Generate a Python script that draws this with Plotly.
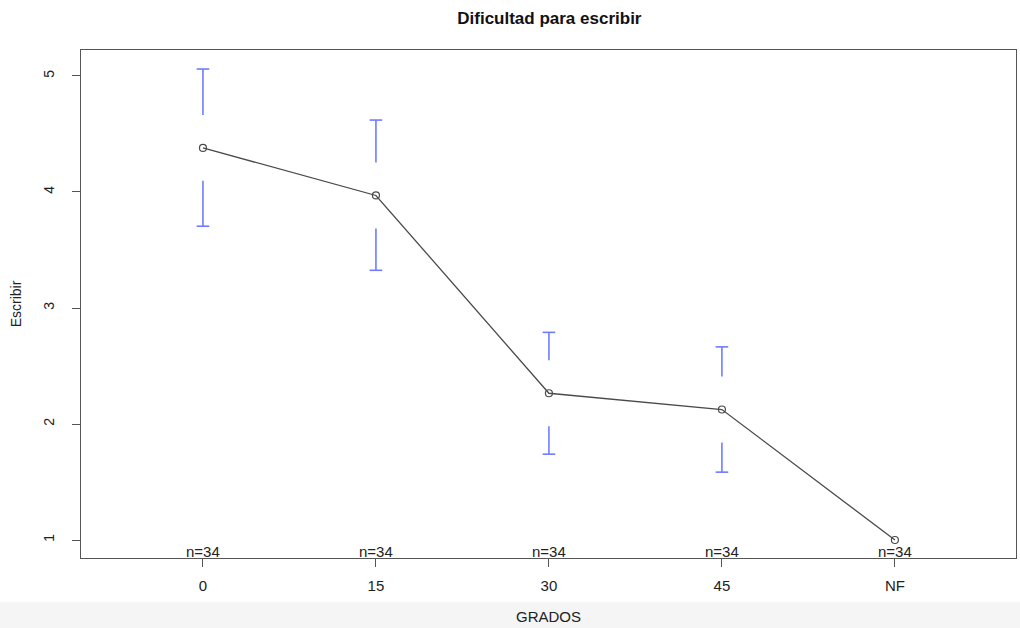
import plotly.graph_objects as go

categories = ["0", "15", "30", "45", "NF"]
means = [4.38, 3.97, 2.265, 2.125, 1.0]
upper = [5.06, 4.62, 2.79, 2.665, 1.0]
lower = [3.705, 3.325, 1.74, 1.585, 1.0]
counts = [34, 34, 34, 34, 34]

x_idx = list(range(len(categories)))
gap = 0.284  # gap around mean (data units) like R plotmeans
BLUE = "#6f7cff"
GRAY = "#4a4a4a"

fig = go.Figure()

# error bar segments with gap
seg_x, seg_y, cap_x, cap_y = [], [], [], []
for xi, m, u, l in zip(x_idx, means, upper, lower):
    if u - m > gap:
        seg_x += [xi, xi, None]
        seg_y += [m + gap, u, None]
        cap_x.append(xi); cap_y.append(u)
    if m - l > gap:
        seg_x += [xi, xi, None]
        seg_y += [m - gap, l, None]
        cap_x.append(xi); cap_y.append(l)

fig.add_trace(go.Scatter(x=seg_x, y=seg_y, mode="lines",
                         line=dict(color=BLUE, width=1.6), hoverinfo="skip",
                         showlegend=False))
fig.add_trace(go.Scatter(x=cap_x, y=cap_y, mode="markers",
                         marker=dict(symbol="line-ew", size=9,
                                     line=dict(color=BLUE, width=1.6)),
                         hoverinfo="skip", showlegend=False))

fig.add_trace(go.Scatter(x=x_idx, y=means, mode="lines+markers",
                         line=dict(color=GRAY, width=1.3),
                         marker=dict(symbol="circle-open", size=7,
                                     line=dict(color=GRAY, width=1.2)),
                         showlegend=False))

for xi, n in zip(x_idx, counts):
    fig.add_annotation(x=xi, y=0.845, xref="x", yref="y", text=f"n={n}",
                       showarrow=False, yanchor="bottom", yshift=-4,
                       font=dict(size=15, color="#222"))

# light band at bottom of image
fig.add_shape(type="rect", xref="paper", yref="paper",
              x0=-0.1, x1=1.1, y0=-0.086, y1=-0.2, fillcolor="#f5f5f5",
              line=dict(width=0), layer="below")

fig.update_layout(
    width=1020, height=628,
    margin=dict(l=81, r=4, t=50, b=70),
    paper_bgcolor="white", plot_bgcolor="white",
    font=dict(family="Liberation Sans, Arial, sans-serif", size=14, color="#222"),
    title=dict(text="<b>Dificultad para escribir</b>", x=0.5386, xanchor="center",
               y=0.971, yanchor="middle", font=dict(size=17, color="#111")),
)
fig.update_xaxes(
    range=[-0.705, 4.70], tickmode="array", tickvals=x_idx, ticktext=categories,
    tickfont=dict(size=15),
    showgrid=False, zeroline=False, showline=True, mirror=True,
    linecolor="#555", linewidth=1, ticks="outside", ticklen=8, tickcolor="#555",
    ticklabelstandoff=6,
    title=dict(text="GRADOS", standoff=18, font=dict(size=15)),
)
fig.update_yaxes(
    range=[0.845, 5.224], tickvals=[1, 2, 3, 4, 5], tickangle=-90,
    tickfont=dict(size=14),
    showgrid=False, zeroline=False, showline=True, mirror=True,
    linecolor="#555", linewidth=1, ticks="outside", ticklen=8, tickcolor="#555",
    ticklabelstandoff=12,
    title=dict(text="Escribir", standoff=16, font=dict(size=14)),
)

fig.write_html("out.html")
